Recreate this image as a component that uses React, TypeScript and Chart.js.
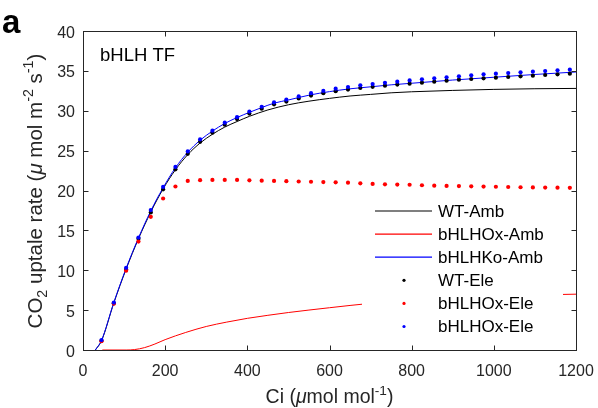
import React, { useEffect, useRef } from 'react';
import { Chart, registerables } from 'chart.js';
Chart.register(...registerables);

// ---- data ----
const ciDots = [45, 75, 105, 135, 165, 195, 225, 255, 285, 315, 345, 375, 405, 435, 465, 495, 525, 555, 585, 615, 645, 675, 705, 735, 765, 795, 825, 855, 885, 915, 945, 975, 1005, 1035, 1065, 1095, 1125, 1155, 1185];
const wtEle = [1.15, 5.85, 10.1, 13.95, 17.25, 20.15, 22.65, 24.6, 26.1, 27.25, 28.25, 28.95, 29.65, 30.25, 30.8, 31.15, 31.55, 31.9, 32.2, 32.45, 32.65, 32.85, 33.0, 33.15, 33.28, 33.4, 33.52, 33.65, 33.77, 33.9, 33.98, 34.07, 34.15, 34.23, 34.32, 34.4, 34.48, 34.57, 34.65];
const oxEle = [1.1, 5.8, 9.95, 13.6, 16.7, 19.0, 20.5, 21.2, 21.3, 21.32, 21.32, 21.32, 21.28, 21.23, 21.2, 21.17, 21.13, 21.1, 21.06, 21.02, 20.98, 20.9, 20.82, 20.78, 20.74, 20.72, 20.66, 20.61, 20.57, 20.55, 20.52, 20.49, 20.47, 20.44, 20.41, 20.39, 20.37, 20.35, 20.34];
const koEle = [1.25, 5.95, 10.3, 14.1, 17.55, 20.45, 22.95, 24.9, 26.4, 27.5, 28.5, 29.2, 29.9, 30.5, 31.05, 31.4, 31.8, 32.2, 32.48, 32.77, 32.98, 33.19, 33.35, 33.5, 33.65, 33.8, 33.94, 34.07, 34.19, 34.32, 34.44, 34.57, 34.65, 34.73, 34.82, 34.9, 34.98, 35.07, 35.15];

const ciWT = [30, 45, 75, 105, 135, 165, 195, 225, 255, 285, 315, 345, 375, 405, 450, 500, 550, 600, 650, 700, 750, 800, 900, 1000, 1100, 1200];
const wtAmb = [0, 1.15, 5.9, 10.15, 13.95, 17.3, 20.2, 22.6, 24.5, 25.95, 27.05, 27.95, 28.65, 29.3, 30.1, 30.75, 31.2, 31.55, 31.85, 32.05, 32.25, 32.38, 32.55, 32.68, 32.76, 32.8];

const ciKO = [30, 45, 75, 105, 135, 165, 195, 225, 255, 285, 315, 345, 375, 405, 435, 465, 500, 550, 600, 650, 700, 750, 800, 900, 1000, 1100, 1200];
const koAmb = [0, 1.2, 5.95, 10.25, 14.05, 17.45, 20.35, 22.85, 24.8, 26.3, 27.45, 28.4, 29.15, 29.8, 30.4, 30.95, 31.35, 31.95, 32.4, 32.75, 33.0, 33.25, 33.45, 33.85, 34.2, 34.55, 34.86];

const ciOX = [47, 105, 125, 150, 175, 200, 250, 300, 350, 400, 450, 500, 600, 700, 800, 900, 1000, 1100, 1200];
const oxAmb = [0, 0, 0.05, 0.3, 0.75, 1.3, 2.2, 2.95, 3.5, 3.97, 4.35, 4.7, 5.3, 5.85, 6.25, 6.55, 6.75, 6.9, 7.0];

const legendLabels = ['WT-Amb', 'bHLHOx-Amb', 'bHLHKo-Amb', 'WT-Ele', 'bHLHOx-Ele', 'bHLHOx-Ele'];
const legendColors = ['#000000', '#ff0000', '#0000ff', '#000000', '#ff0000', '#0000ff'];
const legendKinds = ['line', 'line', 'line', 'dot', 'dot', 'dot'];

const xTicks = [0, 200, 400, 600, 800, 1000, 1200];
const yTicks = [0, 5, 10, 15, 20, 25, 30, 35, 40];

const FONT = '"Liberation Sans", Arial, Helvetica, sans-serif';
const AXC = '#262626';

const pts = (xs: number[], ys: number[]) => xs.map((x, i) => ({ x, y: ys[i] }));

type Seg = { t: string; k?: 'sup' | 'sub'; it?: boolean };

function drawRich(ctx: CanvasRenderingContext2D, segs: Seg[], size: number, color: string) {
  const fontFor = (s: Seg) => {
    const sz = s.k ? size * 0.7 : size;
    return `${s.it ? 'italic ' : ''}${sz}px ${FONT}`;
  };
  let total = 0;
  const widths = segs.map((s) => {
    ctx.font = fontFor(s);
    const w = ctx.measureText(s.t).width;
    total += w;
    return w;
  });
  let x = -total / 2;
  ctx.fillStyle = color;
  ctx.textBaseline = 'alphabetic';
  ctx.textAlign = 'left';
  segs.forEach((s, i) => {
    ctx.font = fontFor(s);
    const dy = s.k === 'sup' ? -size * 0.42 : s.k === 'sub' ? size * 0.25 : 0;
    ctx.fillText(s.t, x, dy);
    x += widths[i];
  });
}

const decorPlugin = {
  id: 'decor',
  afterDatasetsDraw(chart: any) {
    const ctx = chart.ctx as CanvasRenderingContext2D;
    const { left, right, top, bottom } = chart.chartArea;
    const xs = chart.scales.x;
    const ys = chart.scales.y;
    ctx.save();
    // legend (white background, no border)
    ctx.fillStyle = '#ffffff';
    ctx.fillRect(362, 197, 201, 145);
    const rowY0 = 211;
    const rowH = 23.1;
    legendLabels.forEach((lab, i) => {
      const y = rowY0 + i * rowH;
      if (legendKinds[i] === 'line') {
        ctx.strokeStyle = legendColors[i];
        ctx.lineWidth = 1.2;
        ctx.beginPath();
        ctx.moveTo(375, y);
        ctx.lineTo(432, y);
        ctx.stroke();
      } else {
        ctx.fillStyle = legendColors[i];
        ctx.beginPath();
        ctx.arc(404, y, 1.6, 0, Math.PI * 2);
        ctx.fill();
      }
      ctx.fillStyle = '#000000';
      ctx.font = `17px ${FONT}`;
      ctx.textAlign = 'left';
      ctx.textBaseline = 'middle';
      ctx.fillText(lab, 438, y + 1);
    });
    // box
    ctx.strokeStyle = AXC;
    ctx.lineWidth = 1;
    const L = Math.round(left) + 0.5;
    const R = Math.round(right) + 0.5;
    const T = Math.round(top) + 0.5;
    const B = Math.round(bottom) + 0.5;
    ctx.strokeRect(L, T, R - L, B - T);
    // inward ticks
    ctx.beginPath();
    xTicks.forEach((v) => {
      const px = Math.round(xs.getPixelForValue(v)) + 0.5;
      ctx.moveTo(px, B);
      ctx.lineTo(px, B - 5);
      ctx.moveTo(px, T);
      ctx.lineTo(px, T + 5);
    });
    yTicks.forEach((v) => {
      const py = Math.round(ys.getPixelForValue(v)) + 0.5;
      ctx.moveTo(L, py);
      ctx.lineTo(L + 5, py);
      ctx.moveTo(R, py);
      ctx.lineTo(R - 5, py);
    });
    ctx.stroke();
    // tick labels
    ctx.fillStyle = AXC;
    ctx.font = `16px ${FONT}`;
    ctx.textBaseline = 'alphabetic';
    ctx.textAlign = 'center';
    xTicks.forEach((v) => {
      ctx.fillText(String(v), xs.getPixelForValue(v), 376);
    });
    ctx.textAlign = 'right';
    yTicks.forEach((v) => {
      ctx.fillText(String(v), 75, ys.getPixelForValue(v) + 6.5);
    });
    // texts
    ctx.fillStyle = '#000000';
    ctx.font = `bold 33px ${FONT}`;
    ctx.textAlign = 'left';
    ctx.textBaseline = 'alphabetic';
    ctx.fillText('a', 2, 33);
    ctx.font = `18.5px ${FONT}`;
    ctx.fillText('bHLH TF', 100, 61);
    // x title
    ctx.save();
    ctx.translate((left + right) / 2, 403);
    drawRich(ctx, [{ t: 'Ci (' }, { t: 'μ', it: true }, { t: 'mol mol' }, { t: '-1', k: 'sup' }, { t: ')' }], 19.5, AXC);
    ctx.restore();
    // y title
    ctx.save();
    ctx.translate(42, 191);
    ctx.rotate(-Math.PI / 2);
    drawRich(
      ctx,
      [
        { t: 'CO' },
        { t: '2', k: 'sub' },
        { t: ' uptale rate (' },
        { t: 'μ', it: true },
        { t: ' mol m' },
        { t: '-2', k: 'sup' },
        { t: ' s' },
        { t: '-1', k: 'sup' },
        { t: ')' },
      ],
      20.5,
      AXC
    );
    ctx.restore();
    ctx.restore();
  },
};

export default function App() {
  const ref = useRef<HTMLCanvasElement>(null);
  useEffect(() => {
    if (!ref.current) return;
    const lineDs = (label: string, data: any, color: string, order: number) => ({
      label,
      data,
      showLine: true,
      borderColor: color,
      backgroundColor: color,
      borderWidth: 1,
      pointRadius: 0,
      cubicInterpolationMode: 'monotone' as const,
      order,
    });
    const dotDs = (label: string, data: any, color: string, order: number) => ({
      label,
      data,
      showLine: false,
      borderColor: color,
      backgroundColor: color,
      borderWidth: 0,
      pointRadius: 2.1,
      order,
    });
    const chart = new Chart(ref.current, {
      type: 'scatter',
      data: {
        datasets: [
          dotDs('bHLHOx-Ele', pts(ciDots, koEle), '#0000ff', 0),
          dotDs('bHLHOx-Ele', pts(ciDots, oxEle), '#ff0000', 1),
          dotDs('WT-Ele', pts(ciDots, wtEle), '#000000', 2),
          lineDs('bHLHKo-Amb', pts(ciKO, koAmb), '#0000ff', 3),
          lineDs('bHLHOx-Amb', pts(ciOX, oxAmb), '#ff0000', 4),
          lineDs('WT-Amb', pts(ciWT, wtAmb), '#000000', 5),
        ],
      },
      options: {
        animation: false,
        responsive: false,
        maintainAspectRatio: false,
        layout: { padding: { top: 31, right: 22, left: 0, bottom: 0 } },
        plugins: { legend: { display: false }, tooltip: { enabled: false } },
        scales: {
          x: {
            type: 'linear',
            min: 0,
            max: 1200,
            afterFit: (s: any) => { s.height = 58; },
            afterBuildTicks: (s: any) => { s.ticks = xTicks.map((v) => ({ value: v })); },
            grid: { display: false, drawTicks: false },
            border: { display: false },
            ticks: { display: false },
          },
          y: {
            type: 'linear',
            min: 0,
            max: 40,
            afterFit: (s: any) => { s.width = 83; },
            afterBuildTicks: (s: any) => { s.ticks = yTicks.map((v) => ({ value: v })); },
            grid: { display: false, drawTicks: false },
            border: { display: false },
            ticks: { display: false },
          },
        },
      },
      plugins: [decorPlugin],
    });
    return () => chart.destroy();
  }, []);
  return (
    <div style={{ position: 'absolute', left: 0, top: 0, width: 598, height: 408, background: '#fff' }}>
      <canvas ref={ref} width={598} height={408} style={{ display: 'block', width: 598, height: 408 }} />
    </div>
  );
}
